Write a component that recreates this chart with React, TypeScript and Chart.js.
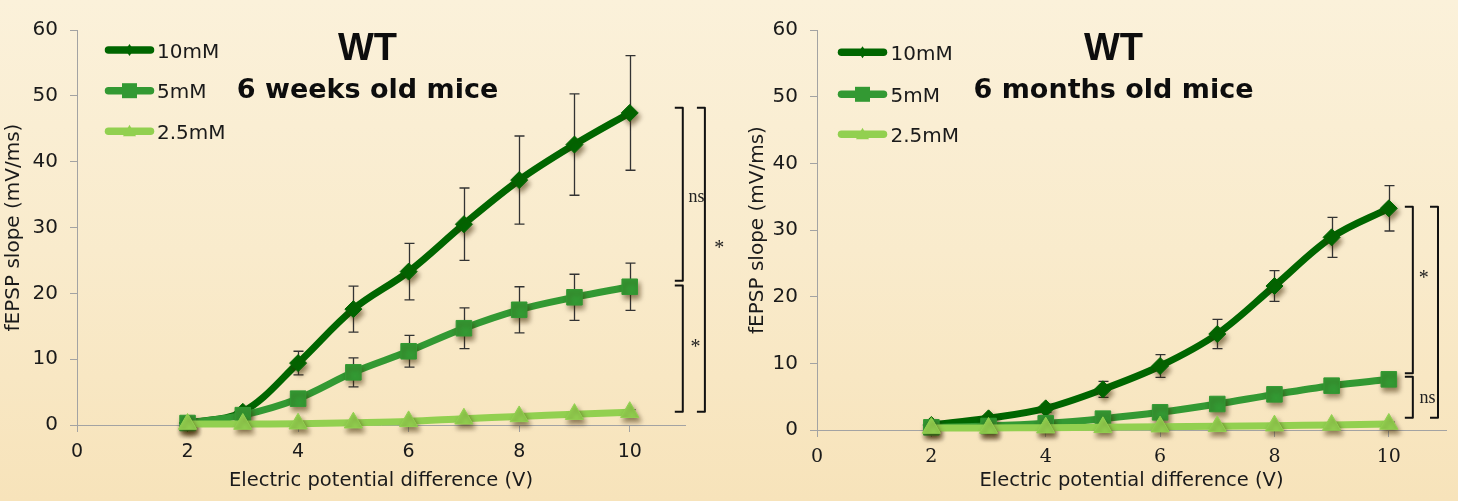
import React, { useEffect, useRef } from 'react';
import { Chart, registerables } from 'chart.js';

Chart.register(...registerables);

// ---------- data ----------
const voltages = [2, 3, 4, 5, 6, 7, 8, 9, 10];
const xTickValues = [0, 2, 4, 6, 8, 10];
const yTickValues = [0, 10, 20, 30, 40, 50, 60];
const seriesLabels = ['10mM', '5mM', '2.5mM'];
const seriesColors = ['#006600', '#339933', '#92D050'];
const seriesMarkers = ['rectRot', 'rect', 'triangle'];

// WT, 6 weeks old mice
const weeks10mM = [0.3, 2.0, 9.4, 17.6, 23.3, 30.5, 37.2, 42.6, 47.4];
const weeks10mMErr = [0.3, 0.5, 1.8, 3.5, 4.3, 5.5, 6.7, 7.7, 8.7];
const weeks5mM = [0.3, 1.5, 4.0, 8.0, 11.2, 14.7, 17.5, 19.4, 21.0];
const weeks5mMErr = [0.2, 0.3, 0.8, 2.2, 2.4, 3.1, 3.5, 3.5, 3.6];
const weeks2_5mM = [0.15, 0.15, 0.2, 0.35, 0.55, 0.95, 1.3, 1.65, 1.95];
const weeks2_5mMErr = [0.1, 0.1, 0.1, 0.2, 0.2, 0.3, 0.3, 0.3, 0.4];

// WT, 6 months old mice
const months10mM = [0.75, 1.75, 3.25, 6.1, 9.6, 14.4, 21.6, 28.9, 33.25];
const months10mMErr = [0.2, 0.4, 0.6, 1.2, 1.7, 2.2, 2.3, 3.0, 3.4];
const months5mM = [0.4, 0.6, 1.0, 1.7, 2.65, 3.9, 5.35, 6.65, 7.6];
const months5mMErr = [0.1, 0.2, 0.3, 0.4, 0.5, 0.6, 0.7, 0.7, 0.8];
const months2_5mM = [0.3, 0.3, 0.35, 0.4, 0.5, 0.55, 0.65, 0.75, 0.9];
const months2_5mMErr = [0.1, 0.1, 0.1, 0.1, 0.2, 0.2, 0.2, 0.2, 0.3];

// significance brackets (data units)
const weeksBrackets = [
  { x: 10.96, from: 21.9, to: 48.2 },
  { x: 10.96, from: 2.0, to: 21.2 },
  { x: 11.36, from: 2.0, to: 48.2 },
];
const weeksSigLabels = [
  { text: 'ns', x: 11.21, y: 33.9 },
  { text: '*', x: 11.19, y: 10.9 },
  { text: '*', x: 11.62, y: 26.0 },
];
const monthsBrackets = [
  { x: 10.42, from: 8.5, to: 33.5 },
  { x: 10.42, from: 1.85, to: 8.0 },
  { x: 10.86, from: 1.85, to: 33.5 },
];
const monthsSigLabels = [
  { text: '*', x: 10.61, y: 21.9 },
  { text: 'ns', x: 10.675, y: 4.0 },
];

// ---------- styles ----------
const SANS = "'DejaVu Sans', 'Liberation Sans', sans-serif";
const SERIF_C = "'DejaVu Serif', serif";
const SERIF_T = "'Liberation Serif', 'Times New Roman', serif";
const TEXT = '#1a1a1a';
const AXIS = '#a3a3a3';
const H = 501;

type Panel = {
  left: number;
  width: number;
  area: { top: number; right: number; bottom: number };
  subtitle: string;
  titleX: number;
  values: number[][];
  errors: number[][];
  brackets: { x: number; from: number; to: number }[];
  sigLabels: { text: string; x: number; y: number }[];
  legend: { x1: number; x2: number; tx: number; ys: number[] };
  xTickFont: string;
  yTitlePad: number;
};

const panels: Panel[] = [
  {
    left: 0,
    width: 740,
    area: { top: 30, right: 685, bottom: 425 },
    subtitle: '6 weeks old mice',
    titleX: 367.5,
    values: [weeks10mM, weeks5mM, weeks2_5mM],
    errors: [weeks10mMErr, weeks5mMErr, weeks2_5mMErr],
    brackets: weeksBrackets,
    sigLabels: weeksSigLabels,
    legend: { x1: 105, x2: 154, tx: 157, ys: [50, 90.7, 131.3] },
    xTickFont: SANS,
    yTitlePad: 2,
  },
  {
    left: 740,
    width: 718,
    area: { top: 30, right: 718, bottom: 430 },
    subtitle: '6 months old mice',
    titleX: 373.5,
    values: [months10mM, months5mM, months2_5mM],
    errors: [months10mMErr, months5mMErr, months2_5mMErr],
    brackets: monthsBrackets,
    sigLabels: monthsSigLabels,
    legend: { x1: 98, x2: 147, tx: 150.5, ys: [52.3, 94.3, 134.3] },
    xTickFont: SERIF_C,
    yTitlePad: 5.5,
  },
];

function drawMarker(ctx: CanvasRenderingContext2D, kind: string, x: number, y: number) {
  ctx.beginPath();
  if (kind === 'rectRot') {
    ctx.moveTo(x, y - 6);
    ctx.lineTo(x + 4, y);
    ctx.lineTo(x, y + 6);
    ctx.lineTo(x - 4, y);
  } else if (kind === 'rect') {
    ctx.rect(x - 7.5, y - 7.5, 15, 15);
  } else {
    ctx.moveTo(x, y - 6.5);
    ctx.lineTo(x + 6.5, y + 5);
    ctx.lineTo(x - 6.5, y + 5);
  }
  ctx.closePath();
  ctx.fill();
}

function buildConfig(p: Panel): any {
  const datasets: any[] = [];
  p.values.forEach((vals, k) => {
    const pts = voltages.map((v, i) => ({ x: v, y: vals[i] }));
    datasets.push({
      label: seriesLabels[k],
      data: pts,
      borderColor: seriesColors[k],
      backgroundColor: seriesColors[k],
      borderWidth: 7,
      pointRadius: 0,
      pointHoverRadius: 0,
      tension: 0.35,
      fill: false,
      clip: false,
      borderCapStyle: 'round',
      borderJoinStyle: 'round',
      order: (2 - k) * 2 + 1,
    });
    datasets.push({
      label: seriesLabels[k] + ' markers',
      data: pts,
      showLine: false,
      pointStyle: seriesMarkers[k],
      pointRadius: [8.5, 11, 10.5][k],
      pointBorderWidth: 1,
      borderColor: seriesColors[k],
      backgroundColor: seriesColors[k],
      clip: false,
      order: (2 - k) * 2,
      shadow: true,
    });
  });

  const shadowPlugin = {
    id: 'markerShadow',
    beforeDatasetDraw(chart: any, args: any) {
      const ds = chart.data.datasets[args.index];
      if (ds.shadow) {
        const ctx = chart.ctx;
        ctx.save();
        ctx.shadowColor = 'rgba(60, 40, 0, 0.55)';
        ctx.shadowBlur = 5;
        ctx.shadowOffsetX = 2;
        ctx.shadowOffsetY = 4;
      }
    },
    afterDatasetDraw(chart: any, args: any) {
      const ds = chart.data.datasets[args.index];
      if (ds.shadow) chart.ctx.restore();
    },
  };

  const errorBarPlugin = {
    id: 'errorBars',
    beforeDatasetsDraw(chart: any) {
      const { ctx, scales } = chart;
      const xs = scales.x;
      const ys = scales.y;
      ctx.save();
      ctx.strokeStyle = '#333333';
      ctx.lineWidth = 1.3;
      p.values.forEach((vals, k) => {
        vals.forEach((v, i) => {
          const e = p.errors[k][i];
          const px = Math.round(xs.getPixelForValue(voltages[i])) + 0.5;
          const t = ys.getPixelForValue(v + e);
          const b = ys.getPixelForValue(v - e);
          ctx.beginPath();
          ctx.moveTo(px, t);
          ctx.lineTo(px, b);
          ctx.moveTo(px - 5, t);
          ctx.lineTo(px + 5, t);
          ctx.moveTo(px - 5, b);
          ctx.lineTo(px + 5, b);
          ctx.stroke();
        });
      });
      ctx.restore();
    },
  };

  const annotationPlugin = {
    id: 'annotations',
    afterDatasetsDraw(chart: any) {
      const { ctx, scales } = chart;
      const xs = scales.x;
      const ys = scales.y;
      ctx.save();
      // brackets
      ctx.strokeStyle = '#111111';
      ctx.lineWidth = 2;
      ctx.lineJoin = 'round';
      p.brackets.forEach((br) => {
        const bx = xs.getPixelForValue(br.x);
        const t = ys.getPixelForValue(br.to);
        const b = ys.getPixelForValue(br.from);
        ctx.beginPath();
        ctx.moveTo(bx - 8, t);
        ctx.lineTo(bx, t);
        ctx.lineTo(bx, b);
        ctx.lineTo(bx - 8, b);
        ctx.stroke();
      });
      ctx.fillStyle = '#222222';
      ctx.textAlign = 'center';
      ctx.textBaseline = 'alphabetic';
      p.sigLabels.forEach((l) => {
        ctx.font = l.text === '*' ? `20px ${SERIF_T}` : `18px ${SERIF_T}`;
        ctx.fillText(l.text, xs.getPixelForValue(l.x), ys.getPixelForValue(l.y));
      });
      ctx.restore();
    },
    afterDraw(chart: any) {
      const ctx = chart.ctx;
      ctx.save();
      // titles
      ctx.fillStyle = '#0d0d0d';
      ctx.textAlign = 'center';
      ctx.textBaseline = 'alphabetic';
      ctx.font = `bold 38px 'Liberation Sans', Arial, sans-serif`;
      ctx.fillText('WT', p.titleX, 60);
      ctx.font = `bold 27px ${SANS}`;
      ctx.fillText(p.subtitle, p.titleX, 98);
      // legend
      const lg = p.legend;
      seriesLabels.forEach((lab, k) => {
        const y = lg.ys[k];
        ctx.strokeStyle = seriesColors[k];
        ctx.fillStyle = seriesColors[k];
        ctx.lineWidth = 7.5;
        ctx.lineCap = 'round';
        ctx.beginPath();
        ctx.moveTo(lg.x1 + 3.5, y);
        ctx.lineTo(lg.x2 - 3.5, y);
        ctx.stroke();
        drawMarker(ctx, seriesMarkers[k], (lg.x1 + lg.x2) / 2, y);
        ctx.fillStyle = TEXT;
        ctx.textAlign = 'left';
        ctx.font = `20px ${SANS}`;
        ctx.fillText(lab, lg.tx, y + 7.5);
      });
      ctx.restore();
    },
  };

  return {
    type: 'line',
    data: { datasets },
    options: {
      animation: false,
      responsive: false,
      devicePixelRatio: 1,
      events: [],
      layout: {
        padding: { left: 0, top: p.area.top, right: p.width - p.area.right, bottom: 0 },
      },
      plugins: {
        legend: { display: false },
        title: { display: false },
        tooltip: { enabled: false },
      },
      scales: {
        x: {
          type: 'linear',
          min: 0,
          max: 11,
          afterBuildTicks: (scale: any) => {
            scale.ticks = xTickValues.map((v) => ({ value: v }));
          },
          afterFit: (scale: any) => {
            scale.height = H - p.area.bottom;
          },
          grid: { display: true, drawOnChartArea: false, drawTicks: true, tickLength: 7, color: AXIS },
          border: { display: true, color: AXIS, width: 1 },
          ticks: {
            padding: 9,
            color: TEXT,
            font: { family: p.xTickFont, size: 19 },
            maxRotation: 0,
            autoSkip: false,
          },
          title: {
            display: true,
            text: 'Electric potential difference (V)',
            color: TEXT,
            font: { family: SANS, size: 19.5 },
            padding: { top: 0, bottom: 8 },
          },
        },
        y: {
          type: 'linear',
          min: 0,
          max: 60,
          afterBuildTicks: (scale: any) => {
            scale.ticks = yTickValues.map((v) => ({ value: v }));
          },
          afterFit: (scale: any) => {
            scale.width = 77;
          },
          grid: { display: true, drawOnChartArea: false, drawTicks: true, tickLength: 7, color: AXIS },
          border: { display: true, color: AXIS, width: 1 },
          ticks: {
            padding: 12,
            color: TEXT,
            font: { family: SANS, size: 20 },
          },
          title: {
            display: true,
            text: 'fEPSP slope (mV/ms)',
            color: TEXT,
            font: { family: SANS, size: 20 },
            padding: { top: p.yTitlePad, bottom: 0 },
          },
        },
      },
    },
    plugins: [errorBarPlugin, shadowPlugin, annotationPlugin],
  };
}

function PanelChart({ panel }: { panel: Panel }) {
  const ref = useRef<HTMLCanvasElement | null>(null);
  useEffect(() => {
    if (!ref.current) return;
    const chart = new Chart(ref.current, buildConfig(panel));
    return () => chart.destroy();
  }, [panel]);
  return (
    <canvas
      ref={ref}
      width={panel.width}
      height={H}
      style={{ position: 'absolute', left: panel.left, top: 0, width: panel.width, height: H }}
    />
  );
}

export default function App() {
  return (
    <div
      style={{
        position: 'fixed',
        left: 0,
        top: 0,
        width: 1458,
        height: H,
        overflow: 'hidden',
        background: 'linear-gradient(to bottom, #FBF1DA 0%, #F9EBCC 50%, #F7E3BA 100%)',
      }}
    >
      {panels.map((p, i) => (
        <PanelChart key={i} panel={p} />
      ))}
    </div>
  );
}
